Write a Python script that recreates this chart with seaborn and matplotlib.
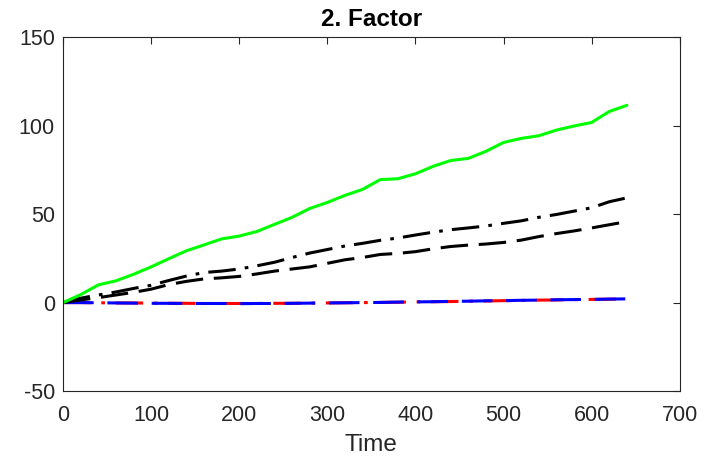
import numpy as np
import pandas as pd
import seaborn as sns
import matplotlib.pyplot as plt

time = list(range(0, 641, 20))

green = [0, 4.5, 10, 12.3, 16, 20.2, 24.8, 29.3, 32.6, 36, 37.6, 40.2, 44.2, 48.2,
         53.2, 56.6, 60.6, 64, 69.5, 70, 72.8, 77, 80.3, 81.5, 85.5, 90.5, 92.8,
         94.3, 97.5, 99.8, 101.8, 108, 111.5]
black_dashdot = [0, 2.5, 4.3, 6, 8, 9.8, 12.5, 15, 17, 17.8, 19, 20.8, 22.8, 25.5,
                 28, 30, 32, 33.5, 35.2, 36.5, 38.2, 39.8, 41.2, 42.2, 43.3, 44.8,
                 46.2, 48.2, 49.8, 51.7, 53.6, 57, 59.2]
black_dashed = [0, 1.5, 2.8, 4.3, 5.8, 7.6, 10.2, 12, 13.4, 14, 14.8, 16.2, 17.8,
                19, 20.2, 22.2, 24.2, 25.5, 27.2, 27.8, 28.8, 30.4, 31.7, 32.5, 33.1,
                34, 35.3, 37.3, 39, 40.5, 42.2, 44, 45.8]
blue = [0, 0, -0.1, -0.2, -0.3, -0.4, -0.4, -0.5, -0.5, -0.5, -0.6, -0.5, -0.5,
        -0.4, -0.3, -0.2, -0.1, 0, 0.1, 0.3, 0.4, 0.5, 0.7, 0.8, 1, 1.1, 1.3, 1.4,
        1.6, 1.7, 1.8, 2, 2.1]
red = [0, 0, -0.1, -0.2, -0.2, -0.3, -0.4, -0.4, -0.5, -0.5, -0.5, -0.5, -0.4,
       -0.4, -0.3, -0.2, -0.1, 0, 0.1, 0.2, 0.4, 0.5, 0.6, 0.8, 0.9, 1.1, 1.2, 1.4,
       1.5, 1.7, 1.8, 1.9, 2.1]

series = {'red': red, 'blue': blue, 'dashed': black_dashed,
          'dashdot': black_dashdot, 'green': green}
df = pd.concat([pd.DataFrame({'time': time, 'value': v, 'serie': k})
                for k, v in series.items()], ignore_index=True)

sns.set_style('white')
plt.rcParams['font.family'] = ['Liberation Sans', 'DejaVu Sans']
plt.rcParams['axes.unicode_minus'] = False

fig = plt.figure(figsize=(7.17, 4.65), dpi=100)
ax = fig.add_axes([0.088, 0.159, 0.860, 0.761])

palette = {'red': '#ff0000', 'blue': '#0000ff', 'dashed': '#000000',
           'dashdot': '#000000', 'green': '#00ff00'}
dashes = {'red': (9, 3.5, 1.2, 3.5), 'blue': (10, 4.5), 'dashed': (9, 3.5),
          'dashdot': (9, 3, 1.2, 3), 'green': ''}
order = ['red', 'blue', 'dashed', 'dashdot', 'green']

sns.lineplot(data=df, x='time', y='value', hue='serie', style='serie',
             hue_order=order, style_order=order, palette=palette, dashes=dashes,
             linewidth=2.2, legend=False, ax=ax)

ax.set_xlim(0, 700)
ax.set_ylim(-50, 150)
ax.set_xticks(range(0, 701, 100))
ax.set_yticks(range(-50, 151, 50))
ax.set_title('2. Factor', fontsize=17.5, fontweight='bold', color='black', pad=8)
ax.set_xlabel('Time', fontsize=17.5, color='#262626', labelpad=6)
ax.set_ylabel('')

for s in ax.spines.values():
    s.set_visible(True)
    s.set_color('#262626')
    s.set_linewidth(0.8)
ax.tick_params(direction='in', length=5, width=0.8, top=True, right=True,
               labelsize=15.5, colors='#262626', pad=6)
ax.tick_params(axis='x', pad=10)

fig.savefig('out.png', dpi=100)
